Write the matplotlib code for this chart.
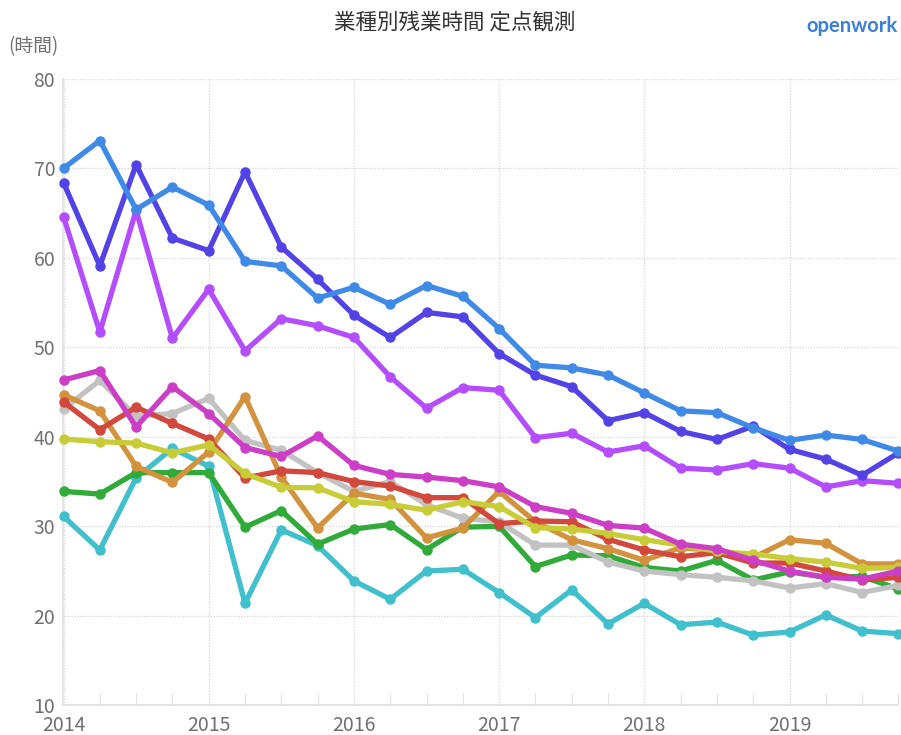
import matplotlib
matplotlib.use("Agg")
import matplotlib.pyplot as plt
import numpy as np

plt.rcParams['font.family'] = ['Noto Sans CJK JP', 'DejaVu Sans']

# quarterly observations 2014.00 ... 2019.75
quarters = [2014 + 0.25 * i for i in range(24)]

s_lightblue = [70.0, 73.1, 65.4, 67.9, 65.9, 59.6, 59.1, 55.5, 56.7, 54.8, 56.9, 55.7,
               52.1, 48.0, 47.7, 46.9, 44.9, 42.9, 42.7, 41.0, 39.6, 40.2, 39.7, 38.4]
s_indigo = [68.4, 59.1, 70.4, 62.2, 60.8, 69.6, 61.2, 57.6, 53.6, 51.1, 53.9, 53.4,
            49.3, 46.9, 45.6, 41.8, 42.7, 40.6, 39.7, 41.2, 38.6, 37.5, 35.7, 38.2]
s_violet = [64.6, 51.7, 65.3, 51.0, 56.5, 49.6, 53.2, 52.4, 51.1, 46.7, 43.2, 45.5,
            45.2, 39.9, 40.4, 38.3, 39.0, 36.5, 36.3, 37.0, 36.5, 34.4, 35.1, 34.8]
s_magenta = [46.35, 47.4, 41.1, 45.6, 42.6, 38.8, 37.8, 40.1, 36.8, 35.8, 35.5, 35.1,
             34.4, 32.2, 31.45, 30.1, 29.8, 28.0, 27.5, 26.2, 25.0, 24.3, 24.1, 25.0]
s_red = [43.9, 40.8, 43.3, 41.5, 39.75, 35.4, 36.2, 36.0, 35.0, 34.5, 33.2, 33.2,
         30.3, 30.6, 30.5, 28.55, 27.35, 26.6, 27.05, 25.9, 25.9, 25.0, 24.0, 24.3]
s_orange = [44.7, 42.9, 36.7, 34.9, 38.3, 44.5, 35.5, 29.8, 33.7, 33.0, 28.7, 29.8,
            33.9, 30.5, 28.5, 27.5, 26.2, 27.6, 27.3, 26.5, 28.5, 28.1, 25.8, 25.8]
s_gray = [43.1, 46.3, 42.3, 42.6, 44.3, 39.6, 38.5, 36.0, 33.9, 35.0, 32.4, 30.9,
          30.5, 27.9, 27.9, 26.0, 25.0, 24.6, 24.3, 23.9, 23.1, 23.6, 22.6, 23.4]
s_yellow = [39.75, 39.45, 39.3, 38.2, 39.1, 35.9, 34.35, 34.3, 32.75, 32.45, 31.8, 32.75,
            32.2, 29.85, 29.7, 29.2, 28.5, 27.9, 27.2, 26.9, 26.4, 26.0, 25.3, 25.4]
s_green = [33.9, 33.6, 36.0, 36.0, 36.0, 29.9, 31.75, 28.0, 29.7, 30.2, 27.4, 29.9,
           30.0, 25.5, 26.8, 26.7, 25.4, 25.0, 26.2, 24.0, 24.9, 24.3, 24.4, 23.0]
s_cyan = [31.1, 27.35, 35.4, 38.7, 36.7, 21.4, 29.6, 27.85, 23.9, 21.85, 25.0, 25.2,
          22.6, 19.8, 22.9, 19.1, 21.4, 19.0, 19.3, 17.85, 18.2, 20.1, 18.3, 18.0]

series = [s_cyan, s_green, s_gray, s_orange, s_red, s_yellow, s_magenta,
          s_violet, s_indigo, s_lightblue]
colors = ['#3fc0cc', '#30aa38', '#c2c2c2', '#d3923e', '#d2483c', '#c8cc36', '#cc3ec6',
          '#b44cff', '#5342e6', '#3f8ae6']

year_ticks = [2014, 2015, 2016, 2017, 2018, 2019]
y_ticks = [10, 20, 30, 40, 50, 60, 70, 80]

fig = plt.figure(figsize=(9.01, 7.35), dpi=100)
ax = fig.add_axes([63.5 / 901, (735 - 705.3) / 735, (898.4 - 63.5) / 901, 626.5 / 735])

for vals, c in zip(series, colors):
    ax.plot(quarters, vals, color=c, lw=3.8, marker='o', ms=6.5, mec=c, mfc=c,
            solid_joinstyle='round', clip_on=False, zorder=3)

ax.set_xlim(2014, 2019.75)
ax.set_ylim(10, 80)
ax.set_yticks(y_ticks)
ax.set_xticks(year_ticks)
ax.set_xticklabels([str(y) for y in year_ticks])
ax.set_xticks(quarters, minor=True)

ax.grid(True, which='major', color='#dcdcdc', linestyle=(0, (1, 1)), lw=1.0, zorder=0)
for s in ['top', 'right']:
    ax.spines[s].set_visible(False)
for s in ['left', 'bottom']:
    ax.spines[s].set_color('#e0e0e0')
    ax.spines[s].set_linewidth(1.2)

ax.tick_params(axis='y', length=0, labelsize=14, labelcolor='#707070', pad=6)
ax.tick_params(axis='x', which='major', length=0, labelsize=14, labelcolor='#707070', pad=7)
ax.tick_params(axis='x', which='minor', direction='in', length=9, width=0.8, color='#e0e0e0')

fig.text(455 / 901, 1 - 22 / 735, '業種別残業時間 定点観測', ha='center', va='center',
         fontsize=15.5, color='#333333')
fig.text(8 / 901, 1 - 47 / 735, '(時間)', ha='left', va='center', fontsize=13.5,
         color='#707070')
fig.text(898 / 901, 1 - 26 / 735, 'openwork', ha='right', va='center', fontsize=14.5,
         color='#3a7fd8', family=['Lato', 'DejaVu Sans'], fontweight='bold')

fig.savefig('out.png', dpi=100)
